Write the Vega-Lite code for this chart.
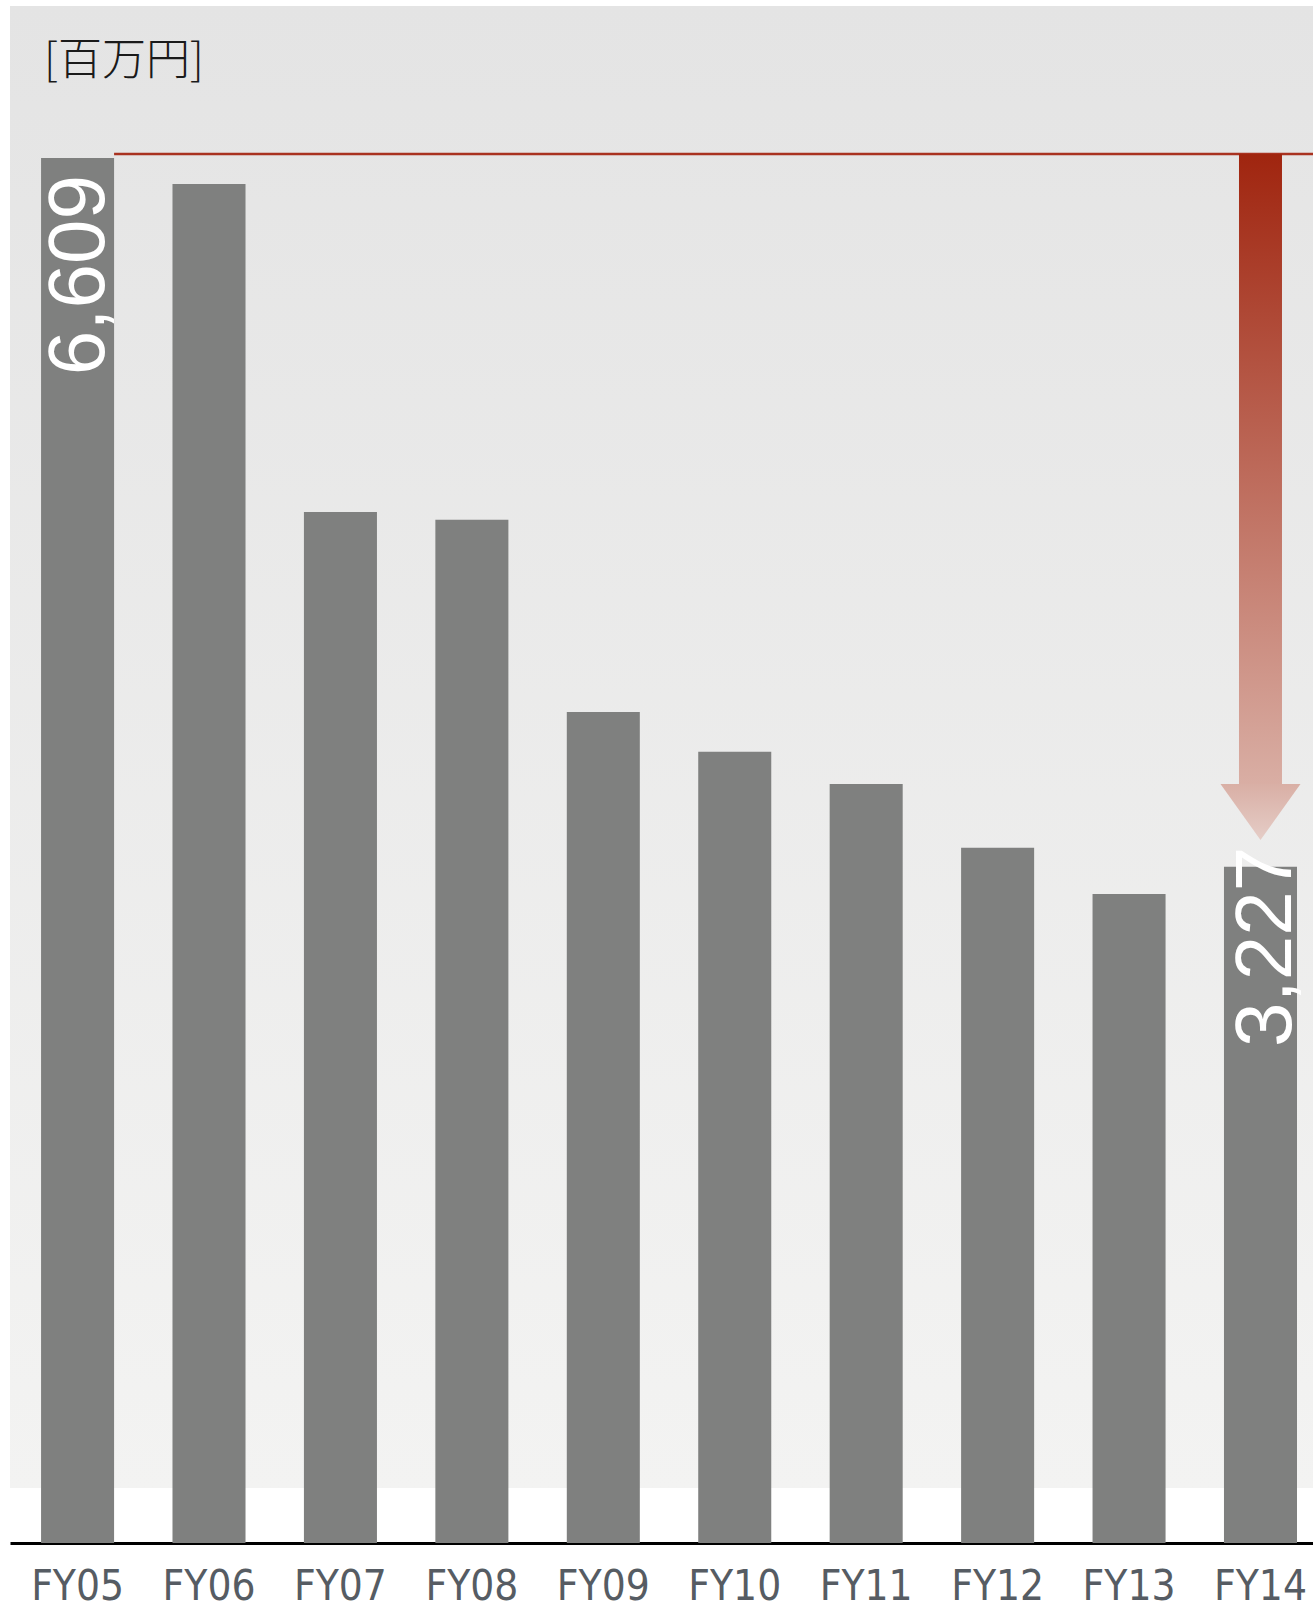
{
  "$schema": "https://vega.github.io/schema/vega-lite/v6.json",
  "width": 1303,
  "height": 1537,
  "autosize": {"type": "none"},
  "padding": {"left": 10, "top": 6, "right": 0, "bottom": 67},
  "background": "#ffffff",
  "config": {"view": {"stroke": null}},
  "datasets": {
    "bars": [
      {"year": "FY05", "value": 6609},
      {"year": "FY06", "value": 6485},
      {"year": "FY07", "value": 4920},
      {"year": "FY08", "value": 4882},
      {"year": "FY09", "value": 3965},
      {"year": "FY10", "value": 3775},
      {"year": "FY11", "value": 3622},
      {"year": "FY12", "value": 3317},
      {"year": "FY13", "value": 3097},
      {"year": "FY14", "value": 3227}
    ],
    "panel": [{"top": 7334, "bottom": 262}],
    "ref": [{"value": 6628}],
    "arrow": [{"year": "FY14", "from": 6628, "to": 3622, "head": 3488}],
    "labels": [
      {"year": "FY05", "value": 6609, "label": "6,609"},
      {"year": "FY14", "value": 3227, "label": "3,227"}
    ],
    "unit": [{"year": "FY05", "value": 7068, "label": "[百万円]"}]
  },
  "layer": [
    {
      "data": {"name": "panel"},
      "mark": {
        "type": "rect",
        "fill": {
          "gradient": "linear", "x1": 0, "y1": 0, "x2": 0, "y2": 1,
          "stops": [{"offset": 0, "color": "#e4e4e4"}, {"offset": 1, "color": "#f3f3f2"}]
        }
      },
      "encoding": {
        "y": {"field": "top", "type": "quantitative", "scale": {"domain": [0, 7334], "nice": false, "zero": true}, "axis": null},
        "y2": {"field": "bottom"}
      }
    },
    {
      "data": {"name": "bars"},
      "mark": {"type": "bar", "color": "#7f807f"},
      "encoding": {
        "x": {
          "field": "year", "type": "nominal", "sort": null,
          "scale": {"paddingInner": 0.4444, "paddingOuter": 0.179, "align": 0.66},
          "axis": {
            "title": null, "labelAngle": 0, "ticks": false,
            "domainColor": "#000000", "domainWidth": 3,
            "labelFont": "DejaVu Sans Condensed, sans-serif",
            "labelFontSize": 42, "labelColor": "#565c63", "labelPadding": 23
          }
        },
        "y": {"field": "value", "type": "quantitative", "axis": null}
      }
    },
    {
      "data": {"name": "ref"},
      "mark": {"type": "rule", "color": "#a93220", "strokeWidth": 2.5},
      "encoding": {
        "x": {"datum": "FY05", "type": "nominal", "bandPosition": 1},
        "x2": {"value": "width"},
        "y": {"field": "value", "type": "quantitative"}
      }
    },
    {
      "data": {"name": "arrow"},
      "mark": {
        "type": "bar", "width": 43,
        "fill": {
          "gradient": "linear", "x1": 0, "y1": 0, "x2": 0, "y2": 1,
          "stops": [{"offset": 0, "color": "#a0250f"}, {"offset": 1, "color": "#d9aea4"}]
        }
      },
      "encoding": {
        "x": {"field": "year", "type": "nominal"},
        "y": {"field": "from", "type": "quantitative"},
        "y2": {"field": "to"}
      }
    },
    {
      "data": {"name": "arrow"},
      "mark": {
        "type": "point", "filled": true, "opacity": 1, "strokeWidth": 0, "size": 6400,
        "shape": "M -1 -0.7 L 1 -0.7 L 0 0.7 Z",
        "fill": {
          "gradient": "linear", "x1": 0, "y1": 0, "x2": 0, "y2": 1,
          "stops": [{"offset": 0, "color": "#d9afa5"}, {"offset": 1, "color": "#e5cdc7"}]
        }
      },
      "encoding": {
        "x": {"field": "year", "type": "nominal"},
        "y": {"field": "head", "type": "quantitative"}
      }
    },
    {
      "data": {"name": "labels"},
      "transform": [{"filter": "datum.year == 'FY05'"}],
      "mark": {
        "type": "text", "angle": 270, "align": "right", "baseline": "alphabetic",
        "dx": -17, "dy": 26, "fontSize": 80, "color": "#ffffff",
        "font": "Liberation Sans, sans-serif"
      },
      "encoding": {
        "x": {"field": "year", "type": "nominal"},
        "y": {"field": "value", "type": "quantitative"},
        "text": {"field": "label"}
      }
    },
    {
      "data": {"name": "labels"},
      "transform": [{"filter": "datum.year == 'FY14'"}],
      "mark": {
        "type": "text", "angle": 270, "align": "right", "baseline": "alphabetic",
        "dx": 20, "dy": 31, "fontSize": 80, "color": "#ffffff",
        "font": "Liberation Sans, sans-serif"
      },
      "encoding": {
        "x": {"field": "year", "type": "nominal"},
        "y": {"field": "value", "type": "quantitative"},
        "text": {"field": "label"}
      }
    },
    {
      "data": {"name": "unit"},
      "mark": {
        "type": "text", "align": "left", "baseline": "middle", "dx": 3,
        "fontSize": 44, "color": "#1a1a1a", "fontWeight": 300,
        "font": "Noto Sans CJK JP"
      },
      "encoding": {
        "x": {"field": "year", "type": "nominal", "bandPosition": 0},
        "y": {"field": "value", "type": "quantitative"},
        "text": {"field": "label"}
      }
    }
  ]
}
